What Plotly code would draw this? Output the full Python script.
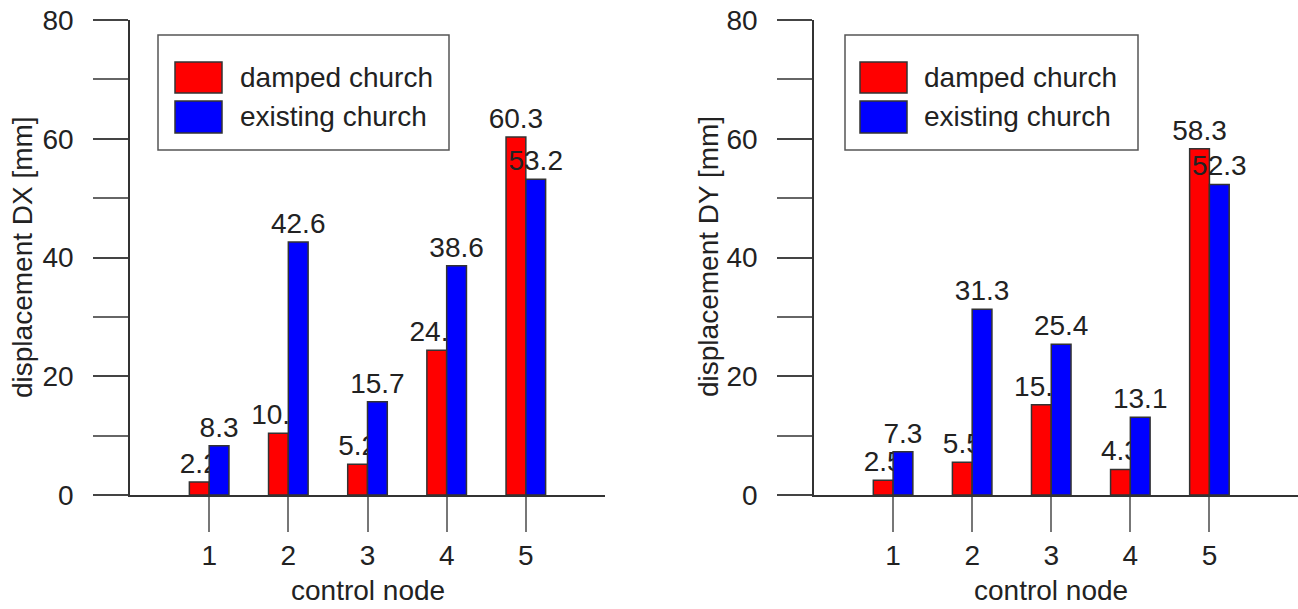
import plotly.graph_objects as go

# Control nodes and displacement values [mm]
nodes = [1, 2, 3, 4, 5]
dx_damped = [2.2, 10.4, 5.2, 24.4, 60.3]
dx_existing = [8.3, 42.6, 15.7, 38.6, 53.2]
dy_damped = [2.5, 5.5, 15.2, 4.3, 58.3]
dy_existing = [7.3, 31.3, 25.4, 13.1, 52.3]

series_names = ["damped church", "existing church"]
series_colors = ["#ff0000", "#0000ff"]
y_titles = ["displacement DX [mm]", "displacement DY [mm]"]
x_title = "control node"

W, H = 1298, 609
FONT = "Liberation Sans, Arial, sans-serif"
FS = 28
TXT = "#222222"


def px(x):
    return x / W


def py(y):
    return 1 - y / H


fig = go.Figure()

panels = [
    ("x", "y", dx_damped, dx_existing),
    ("x2", "y2", dy_damped, dy_existing),
]
for xa, ya, damped, existing in panels:
    for name, vals, col in zip(series_names, [damped, existing], series_colors):
        fig.add_trace(go.Bar(
            x=nodes, y=vals, name=name, xaxis=xa, yaxis=ya,
            marker=dict(color=col, line=dict(color="#333333", width=1.5)),
            texttemplate="%{y:.1f}", textposition="outside",
            textfont=dict(family=FONT, size=FS, color=TXT),
            constraintext="none", cliponaxis=False, showlegend=False,
        ))

ydom = [py(495), py(20)]
xaxis_common = dict(
    showline=True, linecolor="#333333", linewidth=1.5,
    ticks="outside", ticklen=35, tickwidth=1.5, tickcolor="#777777",
    tickvals=nodes, showgrid=False, zeroline=False, automargin=False,
    tickfont=dict(family=FONT, size=FS, color=TXT),
)
yaxis_common = dict(
    range=[0, 80], domain=ydom, showline=True, linecolor="#333333", linewidth=1.5,
    ticks="outside", ticklen=35, tickwidth=1.5, tickcolor="#444444",
    tickvals=[0, 20, 40, 60, 80], showgrid=False, zeroline=False, automargin=False,
    minor=dict(ticks="outside", ticklen=35, tickwidth=1.5, tickcolor="#666666",
               tickvals=[10, 30, 50, 70]),
    tickfont=dict(family=FONT, size=FS, color=TXT), ticklabelstandoff=14,
)

fig.update_layout(
    width=W, height=H, autosize=False,
    margin=dict(l=0, r=0, t=0, b=0, pad=0, autoexpand=False),
    paper_bgcolor="white", plot_bgcolor="white",
    barmode="group", bargap=0.5, bargroupgap=0, showlegend=False,
    xaxis=dict(domain=[px(130), px(605)], range=[0, 6], anchor="y", **xaxis_common),
    yaxis=dict(anchor="x", **yaxis_common),
    xaxis2=dict(domain=[px(814), 1.0], range=[0, 6.12], anchor="y2", **xaxis_common),
    yaxis2=dict(anchor="x2", **yaxis_common),
    font=dict(family=FONT, size=FS, color=TXT),
)

shapes = []
annotations = []

# Legend boxes drawn with shapes and text
legend_boxes = [
    dict(x0=158, x1=449, sw0=175, sw1=222, tx=238),
    dict(x0=845, x1=1138, sw0=860, sw1=907, tx=922),
]
for lb in legend_boxes:
    shapes.append(dict(type="rect", xref="paper", yref="paper",
                       x0=px(lb["x0"]), x1=px(lb["x1"]), y0=py(150), y1=py(35),
                       line=dict(color="#555555", width=1.5), fillcolor="white"))
    for (y0, y1), name, col in zip([(62, 93), (101, 133)], series_names, series_colors):
        shapes.append(dict(type="rect", xref="paper", yref="paper",
                           x0=px(lb["sw0"]), x1=px(lb["sw1"]), y0=py(y1), y1=py(y0),
                           line=dict(color="#333333", width=1.5), fillcolor=col))
        annotations.append(dict(xref="paper", yref="paper", x=px(lb["tx"]),
                                y=py((y0 + y1) / 2), text=name, showarrow=False,
                                xanchor="left", yanchor="middle",
                                font=dict(family=FONT, size=FS, color=TXT)))

# Axis titles
for xpos, title in zip([22, 708], y_titles):
    annotations.append(dict(xref="paper", yref="paper", x=px(xpos), y=py(257),
                            text=title, showarrow=False, textangle=-90,
                            xanchor="center", yanchor="middle",
                            font=dict(family=FONT, size=FS, color=TXT)))
for xr in ["x", "x2"]:
    annotations.append(dict(xref=xr, yref="paper", x=3, y=py(590),
                            text=x_title, showarrow=False,
                            xanchor="center", yanchor="middle",
                            font=dict(family=FONT, size=FS, color=TXT)))

fig.update_layout(shapes=shapes, annotations=annotations)
fig.write_html("out.html")
